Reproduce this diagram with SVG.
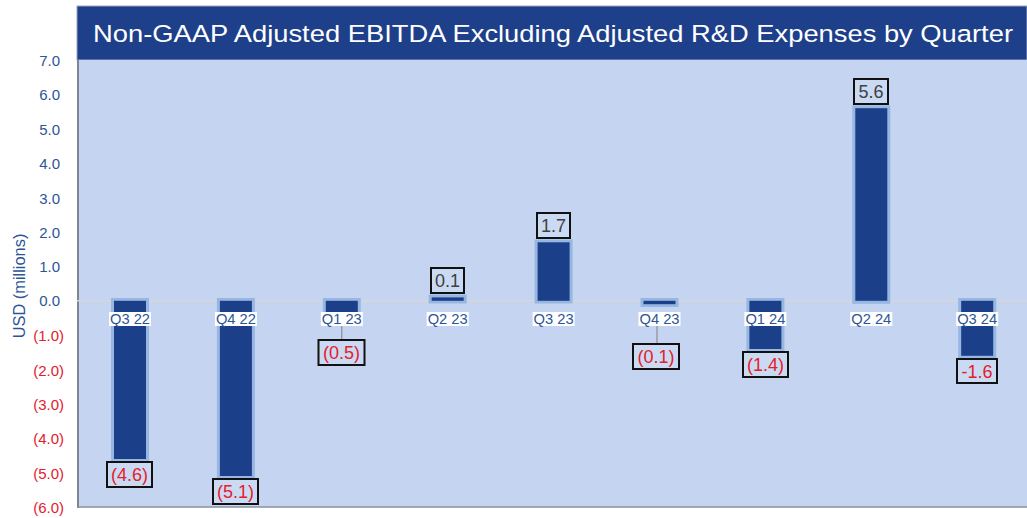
<svg xmlns="http://www.w3.org/2000/svg" width="1027" height="518" viewBox="0 0 1027 518">
<style>
text{font-family:"Liberation Sans",Arial,sans-serif}
.yp{font-size:15px;fill:#2c5597;text-anchor:end}
.yn{font-size:15px;fill:#e3202c;text-anchor:end}
.glow{fill:#8eb1df;opacity:0.85}
.bar{fill:#1c3f8a}
.ql{fill:#ffffff}
.qt{font-size:14.7px;fill:#2c5597;text-anchor:middle}
.vb{fill:#cbdaf3;stroke:#111111;stroke-width:2}
.vn{font-size:18px;fill:#e3202c;text-anchor:middle}
.vp{font-size:18px;fill:#404040;text-anchor:middle}
.lead{stroke:#808080;stroke-width:1}
</style>
<rect width="1027" height="518" fill="#ffffff"/>
<g id="title">
<rect x="77" y="6" width="950" height="54" fill="#1e3f8a" stroke="#9aa8c0" stroke-width="1"/>
<text x="93" y="42" font-size="24.5" fill="#ffffff" textLength="920" lengthAdjust="spacingAndGlyphs">Non-GAAP Adjusted EBITDA Excluding Adjusted R&amp;D Expenses by Quarter</text>
</g>
<g id="plot">
<rect x="77" y="60" width="950" height="447" fill="#c5d5f1"/>
<line x1="78" y1="60" x2="78" y2="508" stroke="#7d8590" stroke-width="2"/>
<line x1="77" y1="507" x2="1027" y2="507" stroke="#8a929c" stroke-width="1.5"/>
<line x1="77" y1="300.8" x2="1027" y2="300.8" stroke="#d6d6d6" stroke-width="1.5"/>
</g>
<g id="yaxis">
<text class="yp" x="60" y="66">7.0</text>
<text class="yp" x="60" y="100">6.0</text>
<text class="yp" x="60" y="135">5.0</text>
<text class="yp" x="60" y="169">4.0</text>
<text class="yp" x="60" y="204">3.0</text>
<text class="yp" x="60" y="238">2.0</text>
<text class="yp" x="60" y="272">1.0</text>
<text class="yp" x="60" y="306">0.0</text>
<text class="yn" x="64" y="341">(1.0)</text>
<text class="yn" x="64" y="376">(2.0)</text>
<text class="yn" x="64" y="410">(3.0)</text>
<text class="yn" x="64" y="444">(4.0)</text>
<text class="yn" x="64" y="479">(5.0)</text>
<text class="yn" x="64" y="513">(6.0)</text>
<text x="25" y="286" font-size="16.4" fill="#2c5597" text-anchor="middle" transform="rotate(-90 25 286)">USD (millions)</text>
</g>
<g id="connectors">
<line class="lead" x1="341.8" y1="326" x2="341.8" y2="340"/>
<line class="lead" x1="657" y1="326" x2="657" y2="344"/>
</g>
<g id="q3-22">
<rect class="glow" x="111" y="298" width="38" height="164"/>
<rect class="bar" x="114" y="300.8" width="32" height="158.2"/>
<rect class="ql" x="109" y="312" width="42" height="14"/>
<text class="qt" x="130" y="324">Q3 22</text>
<rect class="vb" x="107" y="462" width="45" height="25"/>
<text class="vn" x="129.5" y="481">(4.6)</text>
</g>
<g id="q4-22">
<rect class="glow" x="216.9" y="298" width="38" height="181"/>
<rect class="bar" x="219.9" y="300.8" width="32" height="175.2"/>
<rect class="ql" x="214.9" y="312" width="42" height="14"/>
<text class="qt" x="235.9" y="324">Q4 22</text>
<rect class="vb" x="213" y="479" width="45" height="25"/>
<text class="vn" x="235.5" y="498">(5.1)</text>
</g>
<g id="q1-23">
<rect class="glow" x="322.8" y="298" width="38" height="23"/>
<rect class="bar" x="325.8" y="300.8" width="32" height="17.2"/>
<rect class="ql" x="320.8" y="312" width="42" height="14"/>
<text class="qt" x="341.8" y="324">Q1 23</text>
<rect class="vb" x="318.5" y="340" width="46" height="25"/>
<text class="vn" x="341.5" y="359">(0.5)</text>
</g>
<g id="q2-23">
<rect class="glow" x="428.7" y="294.5" width="38" height="9"/>
<rect class="bar" x="431.7" y="297.4" width="32" height="3.4"/>
<rect class="ql" x="426.7" y="312" width="42" height="14"/>
<text class="qt" x="447.7" y="324">Q2 23</text>
<rect class="vb" x="431" y="268" width="33" height="25"/>
<text class="vp" x="447.5" y="287">0.1</text>
</g>
<g id="q3-23">
<rect class="glow" x="534.6" y="239.5" width="38" height="64"/>
<rect class="bar" x="537.6" y="242.3" width="32" height="58.5"/>
<rect class="ql" x="532.6" y="312" width="42" height="14"/>
<text class="qt" x="553.6" y="324">Q3 23</text>
<rect class="vb" x="537" y="213" width="33" height="25"/>
<text class="vp" x="553.5" y="232">1.7</text>
</g>
<g id="q4-23">
<rect class="glow" x="640.5" y="298" width="38" height="9"/>
<rect class="bar" x="643.5" y="300.8" width="32" height="3.4"/>
<rect class="ql" x="638.5" y="312" width="42" height="14"/>
<text class="qt" x="659.5" y="324">Q4 23</text>
<rect class="vb" x="633" y="344" width="46" height="25"/>
<text class="vn" x="656" y="363">(0.1)</text>
</g>
<g id="q1-24">
<rect class="glow" x="746.4" y="298" width="38" height="54"/>
<rect class="bar" x="749.4" y="300.8" width="32" height="48.2"/>
<rect class="ql" x="744.4" y="312" width="42" height="14"/>
<text class="qt" x="765.4" y="324">Q1 24</text>
<rect class="vb" x="743" y="352" width="45" height="25"/>
<text class="vn" x="765.5" y="371">(1.4)</text>
</g>
<g id="q2-24">
<rect class="glow" x="852.3" y="105.3" width="38" height="198.5"/>
<rect class="bar" x="855.3" y="108.2" width="32" height="192.6"/>
<rect class="ql" x="850.3" y="312" width="42" height="14"/>
<text class="qt" x="871.3" y="324">Q2 24</text>
<rect class="vb" x="854" y="79" width="34" height="25"/>
<text class="vp" x="871" y="98">5.6</text>
</g>
<g id="q3-24">
<rect class="glow" x="958.2" y="298" width="38" height="61"/>
<rect class="bar" x="961.2" y="300.8" width="32" height="55"/>
<rect class="ql" x="956.2" y="312" width="42" height="14"/>
<text class="qt" x="977.2" y="324">Q3 24</text>
<rect class="vb" x="957" y="359" width="40" height="24"/>
<text class="vn" x="977" y="378">-1.6</text>
</g>
</svg>
